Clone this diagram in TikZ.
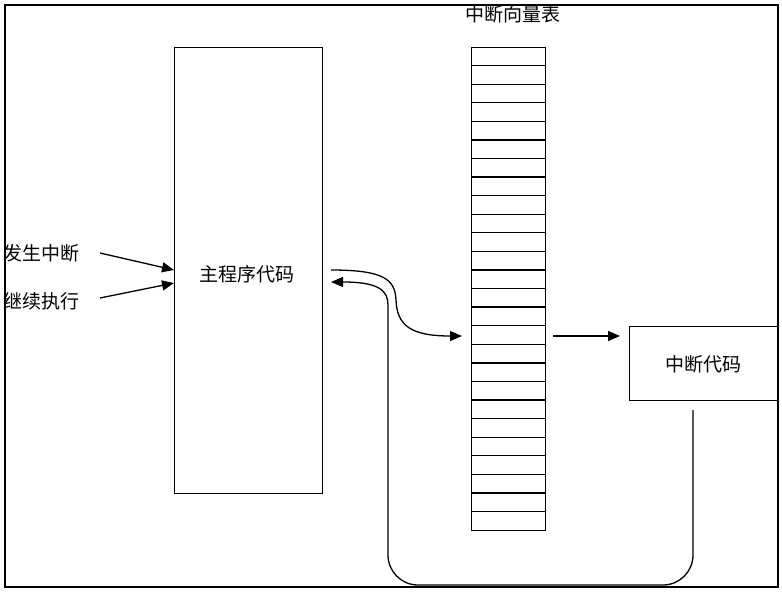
\documentclass[tikz,border=0pt]{standalone}
\usepackage{fontspec}
\newfontfamily\cjk{Noto Sans CJK SC}
\usetikzlibrary{arrows.meta}
\tikzset{
  box/.style={draw,line width=1.3pt,anchor=north west,inner sep=0pt},
  lbl/.style={font=\cjk\fontsize{19}{19}\selectfont,inner sep=0.75pt},
  arr/.style={line width=1.3pt,-{Triangle[length=12pt,width=10pt]}}
}
\begin{document}
\begin{tikzpicture}[x=1pt,y=-1pt]
\useasboundingbox (0,0) rectangle (782,592);
\draw[line width=1.3pt] (5,5) rectangle (778,587);

% main program
\node[box,minimum width=148pt,minimum height=446pt] (main) at (174,47) {};
\node[lbl] (mainlbl) at (247,274) {主程序代码};

% vector table
\node[box,minimum width=74pt,minimum height=483pt] (vec) at (471,47) {};
\foreach \i in {1,...,25}
  \draw[line width=1.3pt] (471,47+18.58*\i) -- (545,47+18.58*\i);
\node[lbl] (veclbl) at (513,14) {中断向量表};

% handler
\node[box,minimum width=148pt,minimum height=74pt] (isr) at (629,326) {};
\node[lbl] (isrlbl) at ([yshift=-1pt]isr.center) {中断代码};

% inputs
\node[lbl,anchor=west] (irq) at (3,253) {发生中断};
\node[lbl,anchor=west] (ret) at (3,301) {继续执行};
\coordinate (irqend) at (100,253);
\coordinate (retend) at (100,298);
\draw[arr] (irqend) -- (main.west |- 0,270);
\draw[arr] (retend) -- (main.west |- 0,283);

% jump to table
\draw[arr] (331,270) .. controls (385,270) and (395,280) .. (396,300)
  .. controls (397,325) and (410,336) .. (462,336);
\draw[arr] (553,336) -- (620,336);

% return path
\coordinate (isrout) at (693,410);
\draw[arr] (isrout) -- (693,555) arc (0:90:30) -- (418,585) arc (90:180:30)
  -- (388,305) .. controls (388,290) and (378,282) .. (331,282);
\end{tikzpicture}
\end{document}
